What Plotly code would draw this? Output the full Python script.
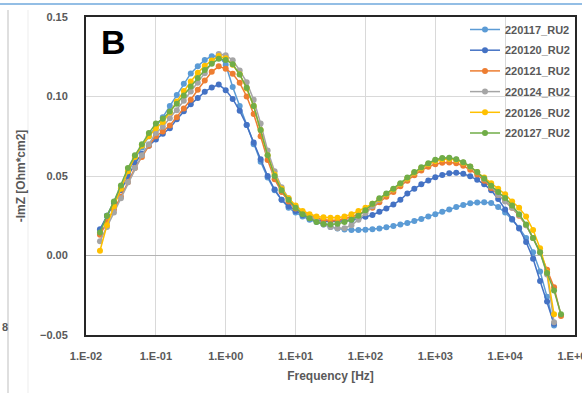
import plotly.graph_objects as go

# Frequency grid [Hz] (10 points per decade)
freq = [0.01585, 0.01995, 0.02512, 0.03162, 0.03981, 0.05012, 0.0631, 0.07943, 0.1, 0.1259,
        0.1585, 0.1995, 0.2512, 0.3162, 0.3981, 0.5012, 0.631, 0.7943, 1.0, 1.259,
        1.585, 1.995, 2.512, 3.162, 3.981, 5.012, 6.31, 7.943, 10.0, 12.59,
        15.85, 19.95, 25.12, 31.62, 39.81, 50.12, 63.1, 79.43, 100.0, 125.9,
        158.5, 199.5, 251.2, 316.2, 398.1, 501.2, 631.0, 794.3, 1000.0, 1259.0,
        1585.0, 1995.0, 2512.0, 3162.0, 3981.0, 5012.0, 6310.0, 7943.0, 10000.0, 12589.0,
        15849.0, 19953.0, 25119.0, 31623.0, 39811.0, 50119.0, 63096.0]

s_220117 = [0.016, 0.025, 0.033, 0.042, 0.052, 0.061, 0.068, 0.075, 0.081, 0.087,
            0.094, 0.101, 0.108, 0.1145, 0.119, 0.123, 0.1253, 0.1255, 0.120, 0.106,
            0.094, 0.082, 0.070, 0.059, 0.049, 0.041, 0.035, 0.030, 0.027, 0.0245,
            0.0225, 0.021, 0.0195, 0.018, 0.017, 0.0163, 0.016, 0.016, 0.0162, 0.0165,
            0.017, 0.0177, 0.0185, 0.0195, 0.0205, 0.0217, 0.023, 0.0245, 0.026, 0.0275,
            0.029, 0.0305, 0.0318, 0.0328, 0.0334, 0.0335, 0.033, 0.0305, 0.027, 0.0225,
            0.0175, 0.011, 0.002, -0.010, -0.026, -0.044, None]
s_220120 = [0.0165, 0.025, 0.033, 0.041, 0.050, 0.058, 0.064, 0.069, 0.073, 0.0765,
            0.080, 0.0857, 0.0908, 0.0952, 0.099, 0.103, 0.1057, 0.1075, 0.104, 0.0985,
            0.091, 0.082, 0.071, 0.0605, 0.050, 0.0415, 0.035, 0.031, 0.028, 0.0255,
            0.0235, 0.0222, 0.0216, 0.0214, 0.0215, 0.0218, 0.0222, 0.0232, 0.0243, 0.0255,
            0.0275, 0.0295, 0.032, 0.035, 0.039, 0.042, 0.0448, 0.0472, 0.0492, 0.0507,
            0.0517, 0.052, 0.0514, 0.0498, 0.0476, 0.0448, 0.041, 0.0355, 0.029, 0.023,
            0.017, 0.0085, -0.002, -0.016, -0.029, -0.043, None]
s_220121 = [0.013, 0.021, 0.029, 0.037, 0.046, 0.055, 0.062, 0.069, 0.075, 0.078,
            0.0818, 0.087, 0.0925, 0.098, 0.1042, 0.110, 0.1155, 0.119, 0.1174, 0.1143,
            0.1086, 0.100, 0.089, 0.075, 0.060, 0.048, 0.040, 0.034, 0.0295, 0.027,
            0.025, 0.0235, 0.0225, 0.022, 0.0222, 0.023, 0.0242, 0.0258, 0.0278, 0.030,
            0.0335, 0.037, 0.040, 0.0435, 0.047, 0.0505, 0.0535, 0.0558, 0.0574, 0.0583,
            0.0585, 0.058, 0.0565, 0.054, 0.051, 0.047, 0.0425, 0.038, 0.0345, 0.030,
            0.025, 0.019, 0.011, 0.002, -0.009, -0.020, -0.038]
s_220124 = [0.009, 0.018, 0.027, 0.036, 0.046, 0.055, 0.063, 0.070, 0.077, 0.081,
            0.0863, 0.0914, 0.0973, 0.1031, 0.1086, 0.1147, 0.1212, 0.1268, 0.126, 0.1228,
            0.1164, 0.109, 0.098, 0.083, 0.066, 0.053, 0.043, 0.036, 0.031, 0.027,
            0.0245, 0.022, 0.0195, 0.018, 0.0172, 0.0172, 0.019, 0.0225, 0.0265, 0.031,
            0.035, 0.0385, 0.0415, 0.045, 0.0485, 0.052, 0.055, 0.0575, 0.0597, 0.0608,
            0.061, 0.0603, 0.0585, 0.0558, 0.0523, 0.0483, 0.0435, 0.038, 0.034, 0.030,
            0.0255, 0.019, 0.011, 0.002, -0.012, -0.042, None]
s_220126 = [0.003, 0.019, 0.031, 0.042, 0.053, 0.062, 0.069, 0.075, 0.080, 0.084,
            0.090, 0.0969, 0.1034, 0.1094, 0.1149, 0.1193, 0.1227, 0.1254, 0.124, 0.120,
            0.114, 0.105, 0.094, 0.079, 0.063, 0.051, 0.042, 0.036, 0.0315, 0.028,
            0.026, 0.0245, 0.024, 0.0237, 0.0238, 0.0245, 0.026, 0.028, 0.030, 0.0325,
            0.0355, 0.0385, 0.0415, 0.045, 0.0485, 0.052, 0.055, 0.0575, 0.0595, 0.0605,
            0.0607, 0.060, 0.0583, 0.0558, 0.0525, 0.049, 0.0455, 0.042, 0.0385, 0.034,
            0.030, 0.0245, 0.016, 0.0045, -0.0105, -0.037, None]
s_220127 = [0.0145, 0.025, 0.034, 0.044, 0.055, 0.063, 0.070, 0.077, 0.083, 0.086,
            0.0905, 0.0954, 0.1007, 0.1063, 0.1117, 0.1166, 0.1206, 0.1237, 0.123, 0.1203,
            0.1138, 0.1055, 0.094, 0.079, 0.063, 0.050, 0.041, 0.035, 0.030, 0.026,
            0.0235, 0.021, 0.0198, 0.0195, 0.020, 0.021, 0.0225, 0.025, 0.0285, 0.0325,
            0.036, 0.039, 0.042, 0.0455, 0.049, 0.0525, 0.0555, 0.058, 0.0602, 0.0613,
            0.0615, 0.0605, 0.0587, 0.056, 0.0525, 0.0485, 0.0438, 0.040, 0.0362, 0.0315,
            0.026, 0.0195, 0.011, 0.002, -0.011, -0.022, -0.037]

series_names = ["220117_RU2", "220120_RU2", "220121_RU2", "220124_RU2", "220126_RU2", "220127_RU2"]
series_values = [s_220117, s_220120, s_220121, s_220124, s_220126, s_220127]
colors = ["#5B9BD5", "#4472C4", "#ED7D31", "#A5A5A5", "#FFC000", "#70AD47"]

x_tickvals = [0.01, 0.1, 1, 10, 100, 1000, 10000, 100000]
x_ticktext = ["1.E-02", "1.E-01", "1.E+00", "1.E+01", "1.E+02", "1.E+03", "1.E+04", "1.E+05"]
y_tickvals = [-0.05, 0.0, 0.05, 0.10, 0.15]

W, H = 582, 393
L, R, T, B = 86, 7, 17, 58
PW, PH = W - L - R, H - T - B


def px(x):
    return (x - L) / PW


def py(y):
    return 1 - (y - T) / PH


fig = go.Figure()
for name, vals, col in zip(series_names, series_values, colors):
    fig.add_trace(go.Scatter(
        x=freq, y=vals, name=name, mode="lines+markers", legendgroup=name,
        line=dict(color=col, width=1.5),
        marker=dict(color=col, size=6, symbol="circle"),
        connectgaps=False,
    ))

TXT = "#595959"
FONT = "Liberation Sans"

fig.update_layout(
    width=W, height=H,
    margin=dict(l=L, r=R, t=T, b=B, pad=0, autoexpand=False),
    paper_bgcolor="white", plot_bgcolor="white",
    font=dict(family=FONT, color=TXT, size=11),
    showlegend=True,
    legend=dict(
        x=px(465), y=py(15),
        xanchor="left", yanchor="top",
        bgcolor="rgba(0,0,0,0)", borderwidth=0,
        font=dict(family=FONT, size=11, color=TXT, weight="bold"),
        traceorder="grouped", tracegroupgap=1.7,
        itemwidth=30,
    ),
    xaxis=dict(
        type="log", range=[-2, 5.00001], automargin=False,
        tickvals=x_tickvals, ticktext=x_ticktext, ticklabeloverflow="allow",
        showgrid=True, gridcolor="#D9D9D9", gridwidth=1,
        showline=True, linecolor="#262626", linewidth=2, mirror=True,
        ticks="", ticklabelstandoff=10,
        tickfont=dict(family=FONT, size=11, color=TXT, weight="bold"),
        title=dict(text="Frequency [Hz]", standoff=10,
                   font=dict(family=FONT, size=12, color=TXT, weight="bold")),
    ),
    yaxis=dict(
        range=[-0.05, 0.15], tickvals=y_tickvals, tickformat=".2f", automargin=False,
        showgrid=True, gridcolor="#D9D9D9", gridwidth=1,
        zeroline=True, zerolinecolor="#B3B3B3", zerolinewidth=1,
        showline=True, linecolor="#262626", linewidth=2, mirror=True,
        ticks="", ticklabelstandoff=14,
        tickfont=dict(family=FONT, size=11, color=TXT, weight="bold"),
        title=dict(text="-ImZ [Ohm*cm2]", standoff=12,
                   font=dict(family=FONT, size=12, color=TXT, weight="bold")),
    ),
)

# white box behind the legend texts (covers gridlines only)
fig.add_shape(type="rect", xref="paper", yref="paper", layer="between",
              x0=px(505), x1=px(572), y0=py(142), y1=py(20),
              fillcolor="white", line=dict(width=0))

# panel letter
fig.add_annotation(text="<b>B</b>", xref="paper", yref="paper",
                   x=px(99), y=py(21),
                   xanchor="left", yanchor="top", showarrow=False,
                   font=dict(family=FONT, size=34, color="black"))

# fragments of neighbouring content visible at the edges of the screenshot
fig.add_shape(type="line", xref="paper", yref="paper", x0=px(0), x1=px(W),
              y0=py(4), y1=py(4), line=dict(color="#6FA8DC", width=1.5))
for xp, col in [(8, "#BFBFBF"), (28, "#EDEDED")]:
    fig.add_shape(type="line", xref="paper", yref="paper",
                  x0=px(xp), x1=px(xp), y0=py(H), y1=py(10),
                  line=dict(color=col, width=1))
fig.add_annotation(text="<b>8</b>", xref="paper", yref="paper",
                   x=px(0), y=py(327),
                   xanchor="left", yanchor="middle", showarrow=False,
                   font=dict(family=FONT, size=11, color=TXT))

fig.write_html("out.html")
